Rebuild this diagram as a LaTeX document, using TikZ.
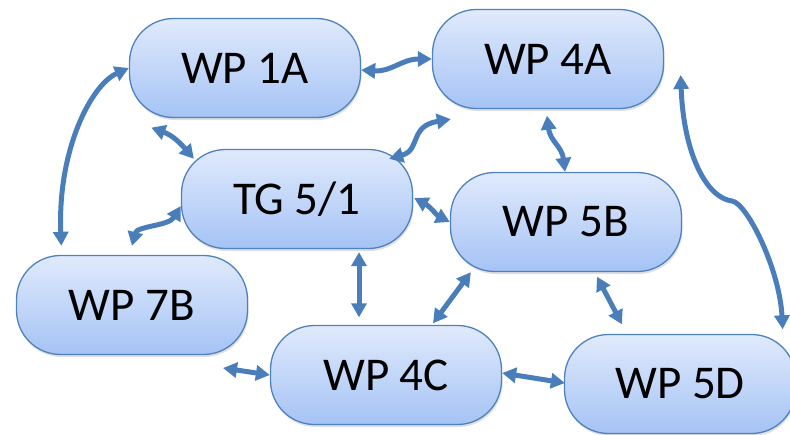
\documentclass[tikz,border=0pt]{standalone}
\usepackage{fontspec}
\setmainfont{Carlito}
\usetikzlibrary{arrows.meta,shadows,calc}
\definecolor{nodetop}{RGB}{224,234,252}
\definecolor{nodebot}{RGB}{165,195,245}
\definecolor{nodeedge}{RGB}{79,129,189}
\definecolor{arr}{RGB}{74,126,187}
\begin{document}
\begin{tikzpicture}[x=1pt,y=-1pt,
  wp/.style={rectangle, rounded corners=44pt, minimum width=231pt, minimum height=99pt,
    top color=nodetop, bottom color=nodebot, draw=nodeedge, line width=1.3pt,
    font=\fontsize{47}{56}\selectfont, inner sep=0pt,
    drop shadow={shadow xshift=1pt, shadow yshift=-2.5pt, opacity=0.25}},
  link/.style={draw=arr, line width=5pt,
    {Triangle[length=14pt,width=15pt]}-{Triangle[length=14pt,width=15pt]}}
]
\useasboundingbox (0,0) rectangle (790,434);
\node[wp] (n1a) at (245,68) {WP 1A};
\node[wp] (n4a) at (548,59) {WP 4A};
\node[wp] (tg) at (297,199) {TG 5/1};
\node[wp] (n5b) at (566,222) {WP 5B};
\node[wp] (n7b) at (132,305) {WP 7B};
\node[wp] (n4c) at (386,375) {WP 4C};
\node[wp] (n5d) at (680,384) {WP 5D};
\coordinate (free) at (223,368);
\coordinate (bend) at (732,201);

\draw[link] ($(n1a.east)+(0,2)$) .. controls +(30,2) and +(-30,0) .. (n4a.west);
\draw[link] ($(n7b.north west)+(45.5,-9)$) .. controls +(-4,-95) and +(-38,17) .. (n1a.west);
\draw[link] ($(n1a.south west)+(22.5,9.5)$) .. controls +(22,8) and +(-12,-14) .. ($(tg.north west)+(13,10)$);
\draw[link] ($(tg.west)+(0,7)$) .. controls +(-12,20) and +(5,-20) .. ($(n7b.north)+(0,-9)$);
\draw[link] ($(tg.north east)+(-24,10)$) .. controls +(32,-9) and +(-42,7) .. ($(n4a.south west)+(19,10)$);
\draw[link] ($(n4a.south)+(-1,6.5)$) .. controls +(3,25) and +(-3,-25) .. ($(n5b.north)+(-1,0)$);
\draw[link] ($(tg.east)+(1,-1)$) .. controls +(15,8) and +(-12,-6) .. (n5b.west);
\draw[link] ($(tg.south)+(62,3)$) -- ($(n4c.north)+(-27,-7.5)$);
\draw[link] ($(n4c.north)+(47,-1.5)$) -- ($(n5b.south west)+(21,0)$);
\draw[link] (free) -- (n4c.west);
\draw[link] ($(n4c.east)+(0,-2)$) -- ($(n5d.west)+(1,-1)$);
\draw[link] ($(n5b.south)+(31,4.5)$) -- ($(n5d.north)+(-58,-9.5)$);
\draw[link] ($(n4a.east)+(16.5,16)$) .. controls +(3,80) and +(-25,-3) .. (bend)
  .. controls +(15,2) and +(-3,-60) .. ($(n5d.north east)+(-13.5,-4.5)$);
\end{tikzpicture}
\end{document}
